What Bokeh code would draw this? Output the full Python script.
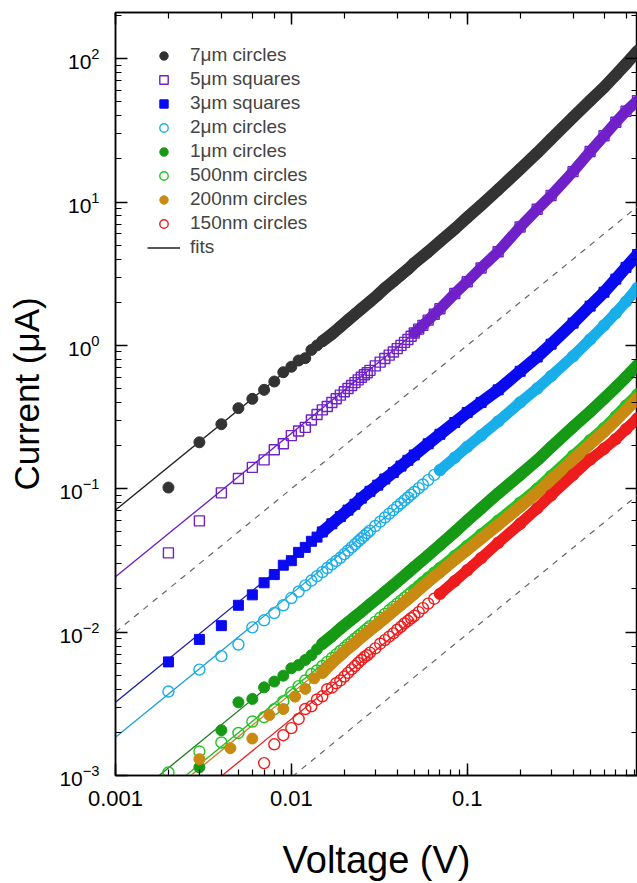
import numpy as np
from bokeh.plotting import figure
from bokeh.models import (LogAxis, LogTicker, CustomJSTickFormatter, Legend,
                          LegendItem, Range1d)
from bokeh.embed import file_html
from bokeh.resources import INLINE

# ---------------- data ----------------
V_GRID = [0.002, 0.003, 0.004, 0.005, 0.006, 0.007, 0.008, 0.009, 0.010, 0.011,
          0.012, 0.013, 0.014, 0.015,
          0.017, 0.019, 0.021, 0.023, 0.025, 0.028, 0.031, 0.034, 0.038, 0.042, 0.046,
          0.05, 0.06, 0.07, 0.085, 0.1, 0.12, 0.15, 0.2, 0.25, 0.3, 0.4, 0.5, 0.6,
          0.7, 0.8, 0.93]
# finer voltage steps used for the open-symbol series in the mid range
V_MID_FINE = [0.016, 0.017, 0.018, 0.019, 0.020, 0.021, 0.022, 0.023, 0.024, 0.025,
              0.026, 0.027, 0.028, 0.030, 0.032, 0.034, 0.036, 0.038, 0.040, 0.042,
              0.044, 0.046, 0.048, 0.05, 0.053, 0.056, 0.06, 0.065, 0.07]
V_FINE = V_GRID[:14] + V_MID_FINE + V_GRID[28:]

I_7UM = [0.102, 0.211, 0.282, 0.365, 0.424, 0.49, 0.56, 0.65, 0.71, 0.785, 0.815, 0.93, 1.0, 1.07,
         1.2, 1.35, 1.5, 1.65, 1.8, 2.02, 2.25, 2.5, 2.8, 3.1, 3.4,
         3.75, 4.5, 5.3, 6.5, 7.8, 9.5, 12.2, 17, 22, 27.5, 39, 51, 63, 77, 92, 113]

I_5UM = [0.0357, 0.0597, 0.0937, 0.118, 0.141, 0.159, 0.187, 0.206, 0.235, 0.253, 0.268, 0.302, 0.33, 0.355,
         0.375, 0.4, 0.425, 0.45, 0.475, 0.5, 0.525, 0.55, 0.575, 0.6,
         0.625, 0.645, 0.67, 0.72, 0.765, 0.81, 0.855, 0.9, 0.95, 1.0,
         1.05, 1.1, 1.16, 1.22, 1.3, 1.38, 1.5, 1.65, 1.8,
         2.3, 2.78, 3.47, 4.5, 6.7, 8.9, 11.1, 16.3, 22.5, 29, 36, 43, 51]

I_3UM = [0.0062, 0.0089, 0.0111, 0.0154, 0.0182, 0.0221, 0.0252, 0.0293, 0.0315, 0.036, 0.039, 0.043, 0.046, 0.05,
         0.057, 0.064, 0.071, 0.078, 0.086, 0.096, 0.106, 0.117, 0.13, 0.144, 0.158,
         0.172, 0.206, 0.24, 0.29, 0.34, 0.4, 0.49, 0.66, 0.83, 1.02, 1.43, 1.88, 2.35, 2.9, 3.5, 4.3]

I_2UM = [0.00385, 0.00548, 0.0068, 0.0082, 0.0108, 0.0121, 0.0136, 0.0154, 0.0173, 0.0192, 0.0212, 0.0229, 0.0246, 0.0262,
         0.028, 0.0297, 0.0314, 0.033, 0.035, 0.037, 0.039, 0.041, 0.043, 0.045,
         0.047, 0.049, 0.051, 0.055, 0.059, 0.063, 0.067, 0.071, 0.075, 0.079,
         0.083, 0.087, 0.091, 0.095, 0.101, 0.107, 0.115, 0.125, 0.135,
         0.165, 0.196, 0.235, 0.295, 0.4, 0.5, 0.61, 0.84, 1.1, 1.38, 1.68, 2.02, 2.52]

I_1UM = [None, 0.00114, 0.00207, 0.00324, 0.00342, 0.00412, 0.00452, 0.00497, 0.0056, 0.0059, 0.0064, 0.0069, 0.0076, 0.0083,
         0.0094, 0.0106, 0.0117, 0.0128, 0.0139, 0.0156, 0.0173, 0.019, 0.0213, 0.0236, 0.026,
         0.0284, 0.0344, 0.0405, 0.05, 0.06, 0.073, 0.093, 0.125, 0.158, 0.195, 0.27, 0.345, 0.425, 0.51, 0.6, 0.73]

I_500NM = [0.00105, 0.00147, 0.0017, 0.00198, 0.00238, 0.00255, 0.0029, 0.0033, 0.0038, 0.0042, 0.0046, 0.0051, 0.0054, 0.0058,
           0.0062, 0.0066, 0.007, 0.0074, 0.0078, 0.0082, 0.0086, 0.009, 0.0094, 0.0098,
           0.0102, 0.0106, 0.011, 0.0118, 0.0126, 0.0134, 0.0142, 0.015, 0.0158, 0.0166,
           0.0174, 0.0182, 0.019, 0.0198, 0.021, 0.0223, 0.024, 0.026, 0.028,
           0.034, 0.04, 0.048, 0.06, 0.08, 0.1, 0.123, 0.17, 0.218, 0.265, 0.32, 0.38, 0.455]

V_200NM = [0.003, 0.0045, 0.006, 0.0075, 0.009, 0.0105, 0.012, 0.0135, 0.015] + V_GRID[14:]
I_200NM = [0.0013, 0.00155, 0.00181, 0.00264, 0.00291, 0.00355, 0.00402, 0.00476, 0.0052,
           0.0061, 0.0069, 0.0077, 0.0084, 0.0092, 0.0103, 0.0114, 0.0125, 0.014, 0.0155, 0.017,
           0.0185, 0.0225, 0.0262, 0.032, 0.0375, 0.045, 0.056, 0.075, 0.094, 0.115, 0.16, 0.205,
           0.25, 0.3, 0.355, 0.43]

I_150NM = [None, None, None, None, None,
           0.00122, 0.00165, 0.00191, 0.00214, 0.00248, 0.00291, 0.00304, 0.00339, 0.00357,
           0.004, 0.0041, 0.0044, 0.0046, 0.0049, 0.0052, 0.0055, 0.0058, 0.0061, 0.0064,
           0.0067, 0.0069, 0.0072, 0.0077, 0.0083, 0.0088, 0.0093, 0.0098, 0.0104, 0.0109,
           0.0115, 0.012, 0.0125, 0.013, 0.0138, 0.0147, 0.0158, 0.0171, 0.0185,
           0.0227, 0.027, 0.0328, 0.042, 0.057, 0.073, 0.09, 0.125, 0.16, 0.19, 0.222, 0.26, 0.31]

LABELS = ["7\u03bcm circles", "5\u03bcm squares", "3\u03bcm squares", "2\u03bcm circles",
          "1\u03bcm circles", "500nm circles", "200nm circles", "150nm circles"]
# linear (ohmic) fits, current = G * V  (uA / V)
FIT_G = [71, 24.3, 3.24, 1.85, 0.565, 0.398, 0.373, 0.2475]
FIT_V = [0.001, 0.05]
# dashed slope-1 guide lines
GUIDE_G = [10, 0.097]
GUIDE_V = [0.001, 0.93]
FITS_LABEL = "fits"

# ---------------- styling ----------------
COLORS = ["#333333", "#7020c8", "#0a0af0", "#18aeea", "#169a16", "#22c422", "#c98a12", "#ee1c1c"]
FIT_COLORS = ["#222222", "#6a1cc0", "#1a1aa8", "#1e9fd8", "#1a7a1a", "#22bb22", "#c0841a", "#e02020"]
MARKERS = ["circle", "square", "square", "circle", "circle", "circle", "circle", "circle"]
FILLED = [True, False, True, False, True, False, True, False]
SOLID_FROM = [0.015, 0.05, 0.015, 0.07, 0.015, 0.05, 0.015, 0.07]

SERIES_V = [V_GRID, V_FINE, V_GRID, V_FINE, V_GRID, V_FINE, V_200NM, V_FINE]
SERIES_I = [I_7UM, I_5UM, I_3UM, I_2UM, I_1UM, I_500NM, I_200NM, I_150NM]

FONT = "Liberation Sans"

p = figure(width=637, height=883, x_axis_type="log", y_axis_type="log",
           x_range=Range1d(0.001, 0.93), y_range=Range1d(0.001, 210),
           output_backend="svg", toolbar_location=None,
           min_border_left=115, min_border_right=0, min_border_top=12,
           min_border_bottom=0)
p.grid.visible = False
p.outline_line_color = "black"
p.outline_line_width = 1.5
p.background_fill_color = "white"
p.border_fill_color = "white"

bottom_axis = p.below[0]
left_axis = p.left[0]

top_axis = LogAxis(ticker=LogTicker(), formatter=CustomJSTickFormatter(code="return ''"))
right_axis = LogAxis(ticker=LogTicker(), formatter=CustomJSTickFormatter(code="return ''"))
p.add_layout(top_axis, "above")
p.add_layout(right_axis, "right")

bottom_axis.formatter = CustomJSTickFormatter(code="return tick.toPrecision(1);")

for ax in [bottom_axis, left_axis, top_axis, right_axis]:
    ax.axis_line_width = 1.5
    ax.axis_line_color = "black"
    ax.major_tick_line_width = 1.5
    ax.minor_tick_line_width = 1.2
    ax.major_tick_line_color = "black"
    ax.minor_tick_line_color = "black"
    ax.major_tick_in = 12
    ax.major_tick_out = 0
    ax.minor_tick_in = 6
    ax.minor_tick_out = 0
    ax.major_label_text_font = FONT
    ax.major_label_text_color = "black"
    ax.axis_label_text_font = FONT
    ax.axis_label_text_font_style = "normal"
    ax.axis_label_text_color = "black"

top_axis.major_label_standoff = 0
right_axis.major_label_standoff = 0

bottom_axis.major_label_text_font_size = "22px"
bottom_axis.major_label_standoff = 15
bottom_axis.axis_label = "Voltage (V)"
bottom_axis.axis_label_text_font_size = "38px"
bottom_axis.axis_label_standoff = 30

left_axis.major_label_text_font_size = "21px"
left_axis.major_label_standoff = 16
left_axis.axis_label = "Current (\u03bcA)"
left_axis.axis_label_text_font_size = "35px"
left_axis.axis_label_standoff = 10

# fits
fit_renderers = []
fv = np.array(FIT_V)
for g, c in zip(FIT_G, FIT_COLORS):
    r = p.line(fv, g * fv, line_color=c, line_width=1.3)
    fit_renderers.append(r)

# dashed guides
gv = np.array(GUIDE_V)
for g in GUIDE_G:
    p.line(gv, g * gv, line_color="#666666", line_width=1.2, line_dash="6 6")

# data
marker_renderers = []
for k in range(8):
    V = np.array(SERIES_V[k], dtype=float)
    I = np.array(SERIES_I[k], dtype=float)
    ok = ~np.isnan(I)
    c = COLORS[k]
    sm = ok & (V >= SOLID_FROM[k] - 1e-9)
    p.line(V[sm], I[sm], line_color=c, line_width=12 if FILLED[k] else 11,
           line_cap="round", line_join="round")
    size = 11 if MARKERS[k] == "circle" else 10
    if FILLED[k]:
        r = p.scatter(V[ok], I[ok], marker=MARKERS[k], size=size, fill_color=c,
                      line_color=c, line_width=1)
    else:
        r = p.scatter(V[ok], I[ok], marker=MARKERS[k], size=size, fill_color=None,
                      line_color=c, line_width=1.4)
    marker_renderers.append(r)

items = [LegendItem(label=lab, renderers=[r]) for lab, r in zip(LABELS, marker_renderers)]
items.append(LegendItem(label=FITS_LABEL, renderers=[fit_renderers[0]]))
legend = Legend(items=items, location="top_left", margin=30, padding=2,
                glyph_width=33, glyph_height=21, label_height=21, spacing=2,
                label_standoff=10, label_text_font=FONT, label_text_font_size="19px",
                background_fill_alpha=0, border_line_alpha=0)
p.add_layout(legend, "center")

open("out.html", "w").write(file_html(p, INLINE))
